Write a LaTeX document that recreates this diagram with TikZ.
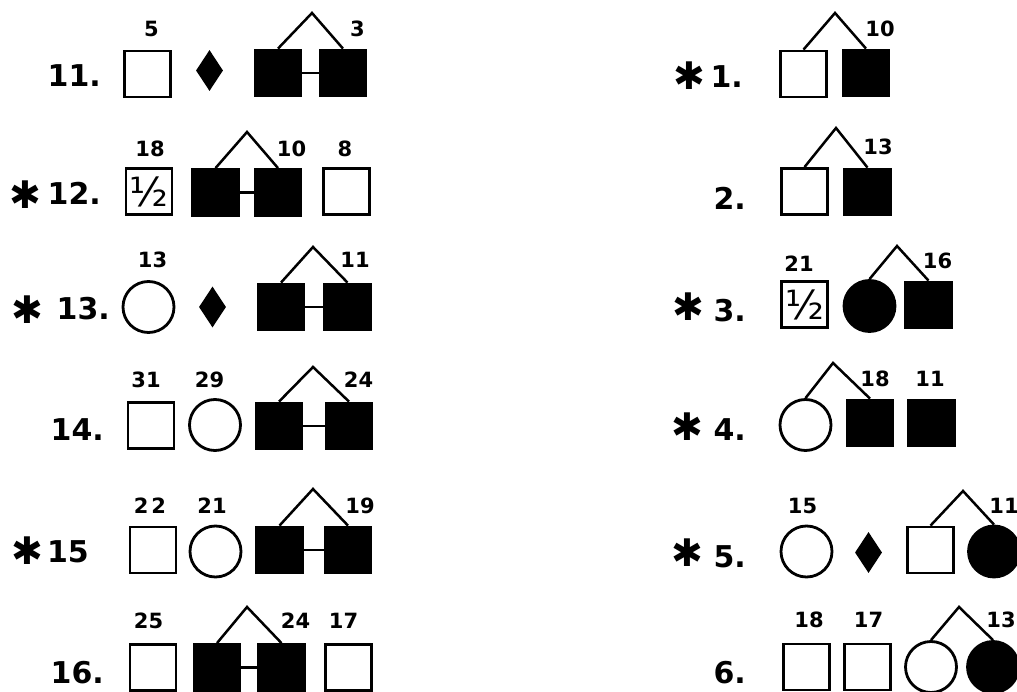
\documentclass[tikz,border=0pt]{standalone}
\usepackage{fontspec}
\setmainfont{DejaVu Sans}
\newfontfamily\starfont{DejaVu Sans}
\usetikzlibrary{shapes.geometric}

\tikzset{
  male/.style={draw, rectangle, line width=2.8pt, minimum size=46pt, inner sep=0pt},
  malefill/.style={male, fill=black},
  female/.style={draw, circle, line width=2.8pt, minimum size=51pt, inner sep=0pt},
  femalefill/.style={female, fill=black},
  unknownsex/.style={diamond, fill=black, minimum width=27pt, minimum height=41pt, inner sep=0pt},
  halfsib/.style={male, font=\fontsize{40}{40}\selectfont},
  twin/.style={line width=2.5pt, line join=miter},
  rowlabel/.style={anchor=base east, inner sep=0pt, font=\bfseries\fontsize{30}{30}\selectfont},
  agelabel/.style={anchor=base, inner sep=0pt, font=\bfseries\fontsize{21}{21}\selectfont},
  starmark/.style={inner sep=0pt, font=\starfont\fontsize{38}{38}\selectfont},
}

\begin{document}
\begin{tikzpicture}[x=1pt, y=-1pt]
  \useasboundingbox (0,0) rectangle (1017,692);
  \clip (0,0) rectangle (1017,692);

  % left column
  % 11.
  \node[rowlabel] (l11) at (101,87) {11.};
  \node[male] (m11) at (147.5,74) {};
  \node[unknownsex] (d11) at (209.5,70.5) {};
  \node[malefill] (f11a) at (278,73) {};
  \node[malefill] (f11b) at (343,73) {};
  \coordinate (t11) at (312,13);
  \draw[twin] (f11a.north) -- (t11) -- (f11b.north);
  \draw[twin] (f11a) -- (f11b);
  \node[agelabel] (a11a) at (151.5,37) {5};
  \node[agelabel] (a11b) at (357.5,37) {3};

  % *12.
  \node[starmark] (s12) at (25.5,195) {✱};
  \node[rowlabel] (l12) at (101,205) {12.};
  \node[halfsib] (h12) at (149,191.5) {½};
  \node[malefill] (f12a) at (215.5,192.5) {};
  \node[malefill] (f12b) at (278,192.5) {};
  \node[male] (m12) at (346.5,191.5) {};
  \coordinate (t12) at (247,132);
  \draw[twin] (f12a.north) -- (t12) -- (f12b.north);
  \draw[twin] (f12a) -- (f12b);
  \node[agelabel] (a12a) at (150,157) {18};
  \node[agelabel] (a12b) at (291.5,157) {10};
  \node[agelabel] (a12c) at (345,157) {8};

  % *13.
  \node[starmark] (s13) at (27.5,310) {✱};
  \node[rowlabel] (l13) at (110,320) {13.};
  \node[female] (c13) at (148.5,307) {};
  \node[unknownsex] (d13) at (212.5,307) {};
  \node[malefill] (f13a) at (281,307) {};
  \node[malefill] (f13b) at (347.5,307) {};
  \coordinate (t13) at (313,247);
  \draw[twin] (f13a.north) -- (t13) -- (f13b.north);
  \draw[twin] (f13a) -- (f13b);
  \node[agelabel] (a13a) at (152.5,268) {13};
  \node[agelabel] (a13b) at (355,268) {11};

  % 14.
  \node[rowlabel] (l14) at (104,440) {14.};
  \node[male] (m14) at (151,425.5) {};
  \node[female] (c14) at (215,425) {};
  \node[malefill] (f14a) at (279,426) {};
  \node[malefill] (f14b) at (349,426) {};
  \coordinate (t14) at (313,367);
  \draw[twin] (f14a.north) -- (t14) -- (f14b.north);
  \draw[twin] (f14a) -- (f14b);
  \node[agelabel] (a14a) at (146,387) {31};
  \node[agelabel] (a14b) at (209.5,387) {29};
  \node[agelabel] (a14c) at (358.5,387) {24};

  % *15
  \node[starmark] (s15) at (27.5,551) {✱};
  \node[rowlabel] (l15) at (89,562) {15};
  \node[male] (m15) at (153,550) {};
  \node[female] (c15) at (215.5,551.5) {};
  \node[malefill] (f15a) at (279.5,550) {};
  \node[malefill] (f15b) at (348,550) {};
  \coordinate (t15) at (313,489);
  \draw[twin] (f15a.north) -- (t15) -- (f15b.north);
  \draw[twin] (f15a) -- (f15b);
  \node[agelabel] (a15a) at (150,513) {2\kern3pt2};
  \node[agelabel] (a15b) at (212,513) {21};
  \node[agelabel] (a15c) at (360,513) {19};

  % 16.
  \node[rowlabel] (l16) at (104,683) {16.};
  \node[male] (m16a) at (153,667.5) {};
  \node[malefill] (f16a) at (217,667.5) {};
  \node[malefill] (f16b) at (281.5,667.5) {};
  \node[male] (m16b) at (348.5,667.5) {};
  \coordinate (t16) at (247,607);
  \draw[twin] (f16a.north) -- (t16) -- (f16b.north);
  \draw[twin] (f16a) -- (f16b);
  \node[agelabel] (a16a) at (148.5,628) {25};
  \node[agelabel] (a16b) at (295.5,628) {24};
  \node[agelabel] (a16c) at (343.5,628) {17};

  % right column
  % *1.
  \node[starmark] (s1) at (689.5,76) {✱};
  \node[rowlabel] (l1) at (743,88) {1.};
  \node[male] (m1) at (803.5,74) {};
  \node[malefill] (f1) at (866,73) {};
  \coordinate (t1) at (835,13);
  \draw[twin] (m1.north) -- (t1) -- (f1.north);
  \node[agelabel] (a1) at (880,37) {10};

  % 2.
  \node[rowlabel] (l2) at (746,210) {2.};
  \node[male] (m2) at (804.5,191.5) {};
  \node[malefill] (f2) at (867.5,192) {};
  \coordinate (t2) at (836,128);
  \draw[twin] (m2.north) -- (t2) -- (f2.north);
  \node[agelabel] (a2) at (878,155) {13};

  % *3.
  \node[starmark] (s3) at (688.5,307) {✱};
  \node[rowlabel] (l3) at (746,322) {3.};
  \node[halfsib] (h3) at (804.5,304.5) {½};
  \node[femalefill] (cf3) at (869.5,306) {};
  \node[malefill] (f3) at (928.5,305) {};
  \coordinate (t3) at (897,246);
  \draw[twin] (cf3.north) -- (t3) -- (f3.north);
  \node[agelabel] (a3a) at (799,272) {21};
  \node[agelabel] (a3b) at (937.5,269) {16};

  % *4.
  \node[starmark] (s4) at (687.5,427) {✱};
  \node[rowlabel] (l4) at (746,440) {4.};
  \node[female] (c4) at (805.5,425) {};
  \node[malefill] (f4a) at (870,423) {};
  \node[malefill] (f4b) at (931.5,423) {};
  \coordinate (t4) at (833,363);
  \draw[twin] (c4.north) -- (t4) -- (f4a.north);
  \node[agelabel] (a4a) at (875,386) {18};
  \node[agelabel] (a4b) at (930,386) {11};

  % *5.
  \node[starmark] (s5) at (687.5,553) {✱};
  \node[rowlabel] (l5) at (746,567) {5.};
  \node[female] (c5) at (806.5,551.5) {};
  \node[unknownsex] (d5) at (868.5,552.5) {};
  \node[male] (m5) at (930.5,550) {};
  \node[femalefill] (cf5) at (994,551.5) {};
  \coordinate (t5) at (963,491);
  \draw[twin] (m5.north) -- (t5) -- (cf5.north);
  \node[agelabel] (a5a) at (802.5,513) {15};
  \node[agelabel] (a5b) at (1004,513) {11};

  % 6.
  \node[rowlabel] (l6) at (746,683) {6.};
  \node[male] (m6a) at (806.5,667) {};
  \node[male] (m6b) at (867.5,667) {};
  \node[female] (c6) at (931,667) {};
  \node[femalefill] (cf6) at (993,667) {};
  \coordinate (t6) at (959,607);
  \draw[twin] (c6.north) -- (t6) -- (cf6.north);
  \node[agelabel] (a6a) at (809,627) {18};
  \node[agelabel] (a6b) at (868.5,627) {17};
  \node[agelabel] (a6c) at (1001,627) {13};
\end{tikzpicture}
\end{document}
